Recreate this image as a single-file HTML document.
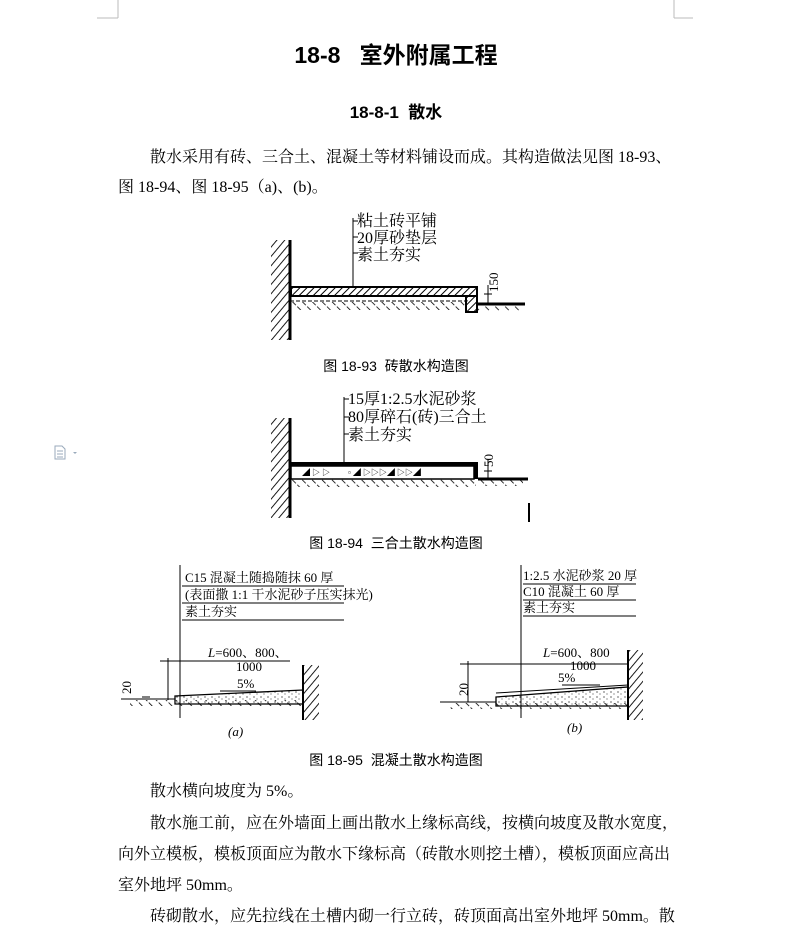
<!DOCTYPE html>
<html><head><meta charset="utf-8"><style>
body{margin:0;width:792px;height:938px;background:#fff;position:relative;overflow:hidden;font-family:"Liberation Serif","Noto Serif CJK SC","Noto Sans CJK SC",serif;color:#000}
.t{position:absolute;white-space:nowrap;font-size:16px;line-height:16px}
.s{font-family:"Liberation Sans","Noto Sans CJK SC",sans-serif}
</style></head><body>
<svg width="792" height="938" style="position:absolute;left:0;top:0" font-family="Liberation Serif,Noto Serif CJK SC,serif">
<defs>
<pattern id="h" width="5" height="5" patternUnits="userSpaceOnUse" patternTransform="rotate(45)"><line x1="0" y1="0" x2="0" y2="5" stroke="#000" stroke-width="2"/></pattern>
<pattern id="w" width="6" height="6" patternUnits="userSpaceOnUse" patternTransform="rotate(40)"><line x1="0" y1="0" x2="0" y2="6" stroke="#000" stroke-width="1.8"/></pattern>
<pattern id="g" width="7" height="7" patternUnits="userSpaceOnUse" patternTransform="rotate(-45)"><line x1="0" y1="0" x2="0" y2="5" stroke="#000" stroke-width="1.6"/></pattern>
<pattern id="d" width="7" height="5" patternUnits="userSpaceOnUse"><circle cx="2" cy="2" r="0.6" fill="#000"/><circle cx="5" cy="4" r="0.5" fill="#000"/></pattern>
</defs>
<g stroke="#bbb" fill="none"><path d="M97 18H118M118 0V18M674 0V18M674 18H693"/></g>
<!-- fig 1 -->
<rect x="271" y="240" width="19" height="100" fill="url(#w)"/>
<line x1="290" y1="240" x2="290" y2="340" stroke="#000" stroke-width="3"/>
<rect x="291" y="287" width="186" height="9" fill="url(#h)" stroke="#000" stroke-width="2"/>
<rect x="291" y="296" width="176" height="5" fill="none" stroke="#000" stroke-dasharray="4 2"/>
<rect x="466" y="296" width="11" height="16" fill="url(#h)" stroke="#000" stroke-width="2"/>
<rect x="291" y="302" width="176" height="8" fill="url(#g)"/>
<line x1="477" y1="304" x2="525" y2="304" stroke="#000" stroke-width="3"/>
<rect x="477" y="305" width="45" height="6" fill="url(#g)"/>
<line x1="353" y1="218" x2="353" y2="288" stroke="#000"/>
<g stroke="#000"><line x1="353" y1="221" x2="358" y2="221"/><line x1="353" y1="237" x2="358" y2="237"/><line x1="353" y1="253" x2="358" y2="253"/><line x1="488" y1="285" x2="488" y2="305"/><line x1="484" y1="294" x2="492" y2="294"/></g>
<g font-size="16"><text x="357" y="226">粘土砖平铺</text><text x="357" y="243">20厚砂垫层</text><text x="357" y="260">素土夯实</text></g>
<text x="498" y="292" font-size="13" transform="rotate(-90 498 292)">150</text>
<!-- fig 2 -->
<rect x="271" y="418" width="19" height="100" fill="url(#w)"/>
<line x1="290" y1="418" x2="290" y2="518" stroke="#000" stroke-width="3"/>
<rect x="291" y="462" width="183" height="4" fill="#000"/>
<rect x="291" y="466" width="183" height="13" fill="#fff" stroke="#000" stroke-width="1.5"/>
<rect x="474" y="462" width="4" height="17" fill="#000"/>
<g fill="#000" font-size="8"><text x="302" y="475">◢ ▷ ▷</text><text x="348" y="475">▫ ◢ ▷▷▷◢ ▷▷◢</text></g>
<rect x="291" y="479" width="185" height="8" fill="url(#g)"/>
<line x1="478" y1="479" x2="528" y2="479" stroke="#000" stroke-width="3"/>
<rect x="478" y="480" width="45" height="6" fill="url(#g)"/>
<line x1="344" y1="397" x2="344" y2="466" stroke="#000"/>
<g stroke="#000"><line x1="344" y1="399" x2="349" y2="399"/><line x1="344" y1="417" x2="349" y2="417"/><line x1="344" y1="434" x2="349" y2="434"/><line x1="488" y1="460" x2="488" y2="480"/><line x1="484" y1="471" x2="492" y2="471"/></g>
<g font-size="16"><text x="348" y="404">15厚1:2.5水泥砂浆</text><text x="348" y="422">80厚碎石(砖)三合土</text><text x="348" y="440">素土夯实</text></g>
<text x="493" y="467" font-size="13" transform="rotate(-90 493 467)">50</text>
<line x1="529" y1="503" x2="529" y2="522" stroke="#000" stroke-width="2"/>
<!-- fig 3a -->
<g stroke="#000" fill="none">
<line x1="180" y1="565" x2="180" y2="718"/>
<line x1="182" y1="586" x2="344" y2="586"/><line x1="182" y1="603" x2="344" y2="603"/><line x1="182" y1="620" x2="344" y2="620"/>
<line x1="160" y1="661" x2="290" y2="661"/><line x1="168" y1="658" x2="168" y2="700"/>
<path d="M175 696 L303 690 V704 H175 Z" fill="url(#d)" stroke-width="1.3"/>
<line x1="121" y1="699" x2="175" y2="699"/><line x1="142" y1="697" x2="150" y2="697"/>
<line x1="220" y1="691" x2="256" y2="691"/>
<line x1="303" y1="665" x2="303" y2="720" stroke-width="2"/>
</g>
<rect x="304" y="665" width="15" height="55" fill="url(#w)"/>
<rect x="130" y="700" width="173" height="6" fill="url(#g)"/>
<g font-size="13"><text x="185" y="582">C15 混凝土随捣随抹 60 厚</text><text x="185" y="599">(表面撒 1:1 干水泥砂子压实抹光)</text><text x="185" y="616">素土夯实</text>
<text x="208" y="657"><tspan font-style="italic">L</tspan>=600、800、</text><text x="236" y="671">1000</text><text x="237" y="688">5%</text>
<text x="131" y="694" transform="rotate(-90 131 694)">20</text><text x="228" y="736" font-style="italic">(a)</text></g>
<!-- fig 3b -->
<g stroke="#000" fill="none">
<line x1="521" y1="565" x2="521" y2="718"/>
<line x1="523" y1="584" x2="636" y2="584"/><line x1="523" y1="600" x2="636" y2="600"/><line x1="523" y1="616" x2="636" y2="616"/>
<line x1="460" y1="664" x2="628" y2="664"/><line x1="468" y1="661" x2="468" y2="702"/>
<path d="M496 697 L628 687 V706 H496 Z" fill="url(#d)" stroke-width="1.3"/>
<line x1="496" y1="693" x2="628" y2="685"/>
<line x1="440" y1="702" x2="496" y2="702"/><line x1="562" y1="685" x2="600" y2="685"/>
<line x1="628" y1="650" x2="628" y2="720" stroke-width="2"/>
</g>
<rect x="629" y="650" width="14" height="70" fill="url(#w)"/>
<rect x="450" y="703" width="178" height="6" fill="url(#g)"/>
<g font-size="13"><text x="523" y="580">1:2.5 水泥砂浆 20 厚</text><text x="523" y="596">C10 混凝土 60 厚</text><text x="523" y="612">素土夯实</text>
<text x="543" y="657"><tspan font-style="italic">L</tspan>=600、800</text><text x="570" y="670">1000</text><text x="558" y="682">5%</text>
<text x="468" y="696" transform="rotate(-90 468 696)">20</text><text x="567" y="732" font-style="italic">(b)</text></g>
<!-- icon -->
<path d="M55 446h7l3 3v10H55Z" fill="#fff" stroke="#9ab"/><path d="M57 451h6M57 454h6M57 457h6" stroke="#9ab"/><path d="M73 452l2 2 2-2" fill="#9ab"/>
</svg>
<div class="t s" style="left:0;width:792px;text-align:center;top:43px;font-size:23px;font-weight:bold;line-height:25px">18-8&nbsp;&nbsp;&nbsp;室外附属工程</div>
<div class="t s" style="left:0;width:792px;text-align:center;top:104px;font-size:17px;font-weight:bold;line-height:18px">18-8-1&nbsp; 散水</div>
<div class="t" style="left:150px;top:150px">散水采用有砖、三合土、混凝土等材料铺设而成。其构造做法见图 18-93、</div>
<div class="t" style="left:118px;top:180px">图 18-94、图 18-95（a)、(b)。</div>
<div class="t s" style="left:0;width:792px;text-align:center;top:358px;font-size:14px">图 18-93&nbsp; 砖散水构造图</div>
<div class="t s" style="left:0;width:792px;text-align:center;top:535px;font-size:14px">图 18-94&nbsp; 三合土散水构造图</div>
<div class="t s" style="left:0;width:792px;text-align:center;top:752px;font-size:14px">图 18-95&nbsp; 混凝土散水构造图</div>
<div class="t" style="left:150px;top:784px">散水横向坡度为 5%。</div>
<div class="t" style="left:150px;top:816px">散水施工前，应在外墙面上画出散水上缘标高线，按横向坡度及散水宽度，</div>
<div class="t" style="left:118px;top:847px">向外立模板，模板顶面应为散水下缘标高（砖散水则挖土槽），模板顶面应高出</div>
<div class="t" style="left:118px;top:878px">室外地坪 50mm。</div>
<div class="t" style="left:150px;top:909px">砖砌散水，应先拉线在土槽内砌一行立砖，砖顶面高出室外地坪 50mm。散</div>
</body></html>
